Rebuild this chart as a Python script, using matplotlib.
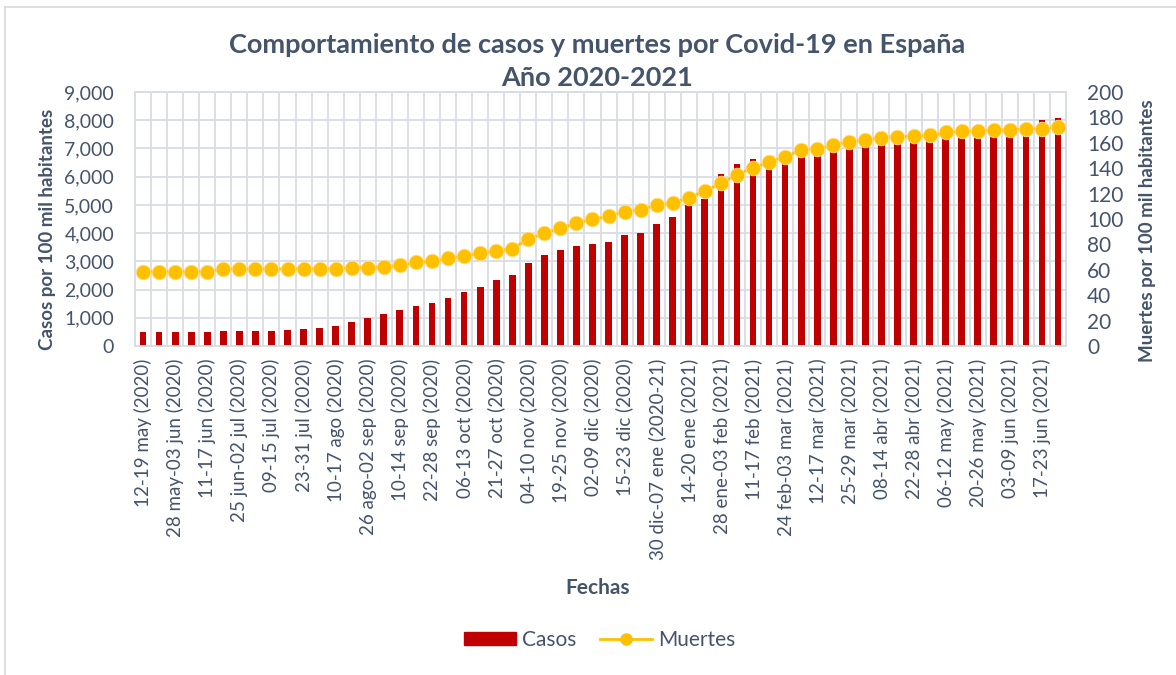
import matplotlib
matplotlib.use("Agg")
import matplotlib.pyplot as plt
import numpy as np
from matplotlib.patches import Patch
from matplotlib.lines import Line2D

plt.rcParams['font.family'] = ['Lato', 'DejaVu Sans']

TEXT = '#44546a'
GRID = '#d9dde4'
RED = '#c00000'
GOLD = '#ffc000'

# weekly periods, only every other one carries a label
week_labels = [
    '12-19 may (2020)', '28 may-03 jun (2020)', '11-17 jun (2020)', '25 jun-02 jul (2020)',
    '09-15 jul (2020)', '23-31 jul (2020)', '10-17 ago (2020)', '26 ago-02 sep (2020)',
    '10-14 sep (2020)', '22-28 sep (2020)', '06-13 oct (2020)', '21-27 oct (2020)',
    '04-10 nov (2020)', '19-25 nov (2020)', '02-09 dic (2020)', '15-23 dic (2020)',
    '30 dic-07 ene (2020-21)', '14-20 ene (2021)', '28 ene-03 feb (2021)', '11-17 feb (2021)',
    '24 feb-03 mar (2021)', '12-17 mar (2021)', '25-29 mar (2021)', '08-14 abr (2021)',
    '22-28 abr (2021)', '06-12 may (2021)', '20-26 may (2021)', '03-09 jun (2021)',
    '17-23 jun (2021)',
]

casos = [
    485, 497, 497, 509, 509, 520, 520, 532, 544, 556,
    603, 651, 722, 864, 1006, 1136, 1266, 1431, 1538, 1692,
    1917, 2082, 2342, 2532, 2958, 3230, 3407, 3549, 3632, 3691,
    3916, 4010, 4330, 4578, 4981, 5215, 6101, 6445, 6622, 6660,
    6860, 7090, 7130, 7250, 7390, 7440, 7530, 7570, 7580, 7630,
    7730, 7770, 7780, 7810, 7820, 7850, 8017, 8077,
]

muertes = [
    58.6, 58.6, 58.6, 58.6, 58.6, 60.7, 60.7, 60.7, 60.7, 60.7,
    60.7, 60.7, 60.7, 61.8, 61.8, 62.5, 63.6, 66.0, 67.0, 69.0,
    71.1, 73.3, 74.9, 76.7, 84.1, 88.8, 92.8, 96.7, 99.9, 102.0,
    105.9, 107.2, 110.9, 112.7, 116.9, 122.0, 128.1, 135.0, 140.2, 144.8,
    149.2, 154.4, 155.2, 158.0, 161.0, 162.2, 164.1, 164.9, 165.0, 166.2,
    168.2, 169.2, 169.3, 170.2, 170.3, 171.0, 171.2, 172.2,
]

x = np.arange(len(casos))

fig = plt.figure(figsize=(11.76, 6.75), dpi=100)
ax = fig.add_axes([0.1148, 0.4874, 0.7917, 0.3763])
ax2 = ax.twinx()

ax.bar(x, casos, width=0.42, color=RED, zorder=2)
ax2.plot(x, muertes, color=GOLD, lw=2, marker='o', markersize=10.5,
         markerfacecolor=GOLD, markeredgecolor='#ffe08a', markeredgewidth=0.6, zorder=3)

ax.set_xlim(-0.5, len(casos) - 0.5)
ax.set_ylim(0, 9000)
ax2.set_ylim(0, 200)
ax.set_yticks(np.arange(0, 9001, 1000))
ax.set_yticklabels([f'{v:,}' for v in range(0, 9001, 1000)])
ax2.set_yticks(np.arange(0, 201, 20))

# vertical grid between categories, horizontal grid on the case ticks
for b in np.arange(-0.5, len(casos), 1.0):
    ax.axvline(b, color=GRID, lw=1.3, zorder=0)
for v in range(0, 9001, 1000):
    ax.axhline(v, color=GRID, lw=1.3, zorder=0)

ax.set_xticks(x[::2])
ax.set_xticklabels(week_labels, rotation=90, fontsize=13.5, color=TEXT)
ax.tick_params(axis='x', length=0, pad=9)
ax.tick_params(axis='y', length=0, pad=15, labelsize=14, labelcolor=TEXT)
ax2.tick_params(axis='y', length=0, pad=15, labelsize=15, labelcolor=TEXT)

for a in (ax, ax2):
    for s in a.spines.values():
        s.set_color(GRID)
        s.set_linewidth(1.3)

ax.set_ylabel('Casos por 100 mil habitantes', fontsize=13.5, fontweight='bold', color=TEXT)
ax2.set_ylabel('Muertes por 100 mil habitantes', fontsize=13.5, fontweight='bold', color=TEXT,
               rotation=90)
ax.yaxis.set_label_coords(-0.085, 0.46)
ax2.yaxis.set_label_coords(1.078, 0.455)

fig.text(0.508, 0.934, 'Comportamiento de casos y muertes por Covid-19 en España',
         ha='center', va='center', fontsize=19.5, fontweight='bold', color=TEXT)
fig.text(0.508, 0.884, 'Año 2020-2021',
         ha='center', va='center', fontsize=19.5, fontweight='bold', color=TEXT)
fig.text(0.508, 0.129, 'Fechas', ha='center', va='center', fontsize=15,
         fontweight='bold', color=TEXT)

handles = [
    Patch(facecolor=RED, edgecolor=RED),
    Line2D([0], [0], color=GOLD, lw=2, marker='o', markersize=8,
           markerfacecolor=GOLD, markeredgecolor=GOLD),
]
leg = fig.legend(handles, ['Casos', 'Muertes'], loc='center', bbox_to_anchor=(0.51, 0.052),
                 ncol=2, frameon=False, fontsize=15, handlelength=2.5, handleheight=0.6,
                 columnspacing=1.1, handletextpad=0.3)
for t in leg.get_texts():
    t.set_color(TEXT)

# chart area outline
fig.add_artist(Line2D([0.0045, 0.0045], [0, 0.99], color='#d9d9d9', lw=1.2,
                      transform=fig.transFigure))
fig.add_artist(Line2D([0.0045, 1], [0.99, 0.99], color='#d9d9d9', lw=1.2,
                      transform=fig.transFigure))

fig.savefig('out.png', dpi=100)
